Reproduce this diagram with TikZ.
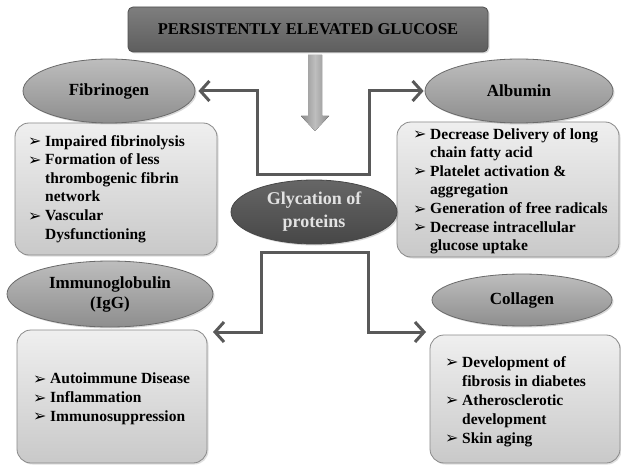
\documentclass[tikz,border=0pt]{standalone}
\usepackage{fontspec}
\setmainfont{Liberation Serif}
\newfontfamily\dejavu{DejaVu Sans}
\usetikzlibrary{arrows.meta,shapes.geometric,shadows}
\definecolor{conncol}{HTML}{595959}
\definecolor{titletop}{HTML}{7E7E7E}
\definecolor{titlebot}{HTML}{5E5E5E}
\definecolor{titleline}{HTML}{505050}
\definecolor{ovaltop}{HTML}{BDBDBD}
\definecolor{ovalbot}{HTML}{8E8E8E}
\definecolor{ovalline}{HTML}{6A6A6A}
\definecolor{paneltop}{HTML}{EFEFEF}
\definecolor{panelbot}{HTML}{C9C9C9}
\definecolor{panelline}{HTML}{8A8A8A}
\definecolor{glytop}{HTML}{666666}
\definecolor{glybot}{HTML}{474747}
\definecolor{glytext}{HTML}{E2E2E2}
\definecolor{arrowmid}{HTML}{BEBEBE}
\definecolor{arrowside}{HTML}{8C8C8C}
\newcommand{\bul}{\makebox[17pt][l]{\raisebox{-0.5pt}{\dejavu\fontsize{16}{16}\selectfont ➢}}}
\newcommand{\ind}{\hspace*{17pt}}
\begin{document}
\begin{tikzpicture}[x=1pt,y=-1pt,
  every node/.style={inner sep=0pt},
  titlebox/.style={rectangle, rounded corners=5pt, minimum width=360pt, minimum height=45pt,
    top color=titletop, bottom color=titlebot, draw=titleline, line width=0.8pt,
    drop shadow={opacity=0.3, shadow xshift=1.5pt, shadow yshift=-1.5pt},
    font=\fontsize{16.5}{18}\selectfont\bfseries},
  oval/.style={ellipse, top color=ovaltop, bottom color=ovalbot, draw=ovalline, line width=0.8pt,
    drop shadow={opacity=0.3, shadow xshift=1.5pt, shadow yshift=-1.5pt},
    align=center, font=\fontsize{17}{20}\selectfont\bfseries},
  glyoval/.style={ellipse, top color=glytop, bottom color=glybot, draw=glybot, line width=0.8pt,
    drop shadow={opacity=0.3, shadow xshift=1.5pt, shadow yshift=-1.5pt},
    align=center, text=glytext, font=\fontsize{18}{23}\selectfont\bfseries},
  panel/.style={rectangle, rounded corners=14pt, top color=paneltop, bottom color=panelbot,
    draw=panelline, line width=0.8pt,
    drop shadow={opacity=0.25, shadow xshift=1.5pt, shadow yshift=-1.5pt}},
  listtext/.style={anchor=north west, align=left, font=\fontsize{15.5}{18.6}\selectfont\bfseries},
  conn/.style={draw=conncol, line width=3pt, line join=miter,
    {Straight Barb[length=9pt,width=20pt]}-{Straight Barb[length=9pt,width=20pt]}}
]
\useasboundingbox[fill=white] (0,0) rectangle (621,465);

% title
\node[titlebox] (title) at (308,29.5) {PERSISTENTLY ELEVATED GLUCOSE};

% down arrow
\fill[left color=arrowside, right color=arrowside, middle color=arrowmid]
  (308,55) -- (322,55) -- (322,116) -- (329,116) -- (315,131) -- (301,116) -- (308,116) -- cycle;

% panels
\node[panel, minimum width=202pt, minimum height=132pt] (fibbox) at (116,189) {};
\node[panel, minimum width=222pt, minimum height=135pt] (albbox) at (508,189.5) {};
\node[panel, minimum width=190pt, minimum height=133pt] (immbox) at (112,396.5) {};
\node[panel, minimum width=190pt, minimum height=128pt] (colbox) at (525,399) {};

% ovals
\node[oval, minimum width=172pt, minimum height=64pt] (fib) at (109,91) {Fibrinogen};
\node[oval, minimum width=188pt, minimum height=64pt] (alb) at (519,91) {Albumin};
\node[oval, minimum width=206pt, minimum height=66pt] (imm) at (110,294) {Immunoglobulin\\(IgG)};
\node[oval, minimum width=180pt, minimum height=52pt] (col) at (522,300) {Collagen};
\node[glyoval, minimum width=166pt, minimum height=64pt] (gly) at (314,212) {Glycation of\\proteins};

% lists
\node[listtext] (fiblist) at (28,135) {\bul Impaired fibrinolysis\\
\bul Formation of less\\
\ind thrombogenic fibrin\\
\ind network\\
\bul Vascular\\
\ind Dysfunctioning};
\node[listtext] (alblist) at (413,128) {\bul Decrease Delivery of long\\
\ind chain fatty acid\\
\bul Platelet activation \&\\
\ind aggregation\\
\bul Generation of free radicals\\
\bul Decrease intracellular\\
\ind glucose uptake};
\node[listtext] (immlist) at (33,373) {\bul Autoimmune Disease\\
\bul Inflammation\\
\bul Immunosuppression};
\node[listtext, font=\fontsize{15.5}{19}\selectfont\bfseries] (collist) at (445,356) {\bul Development of\\
\ind fibrosis in diabetes\\
\bul Atherosclerotic\\
\ind development\\
\bul Skin aging};

% connectors
\coordinate (immtip) at (213,332);
\coordinate (coltip) at (426,332);
\draw[conn, shorten <=3pt, shorten >=1pt] (fib.east) -- (257,91) -- (257,175) -- (369,175) -- (369,91) -- (alb.west);
\draw[conn] (immtip) -- (261,332) -- (261,252) -- (368,252) -- (368,332) -- (coltip);
\end{tikzpicture}
\end{document}
